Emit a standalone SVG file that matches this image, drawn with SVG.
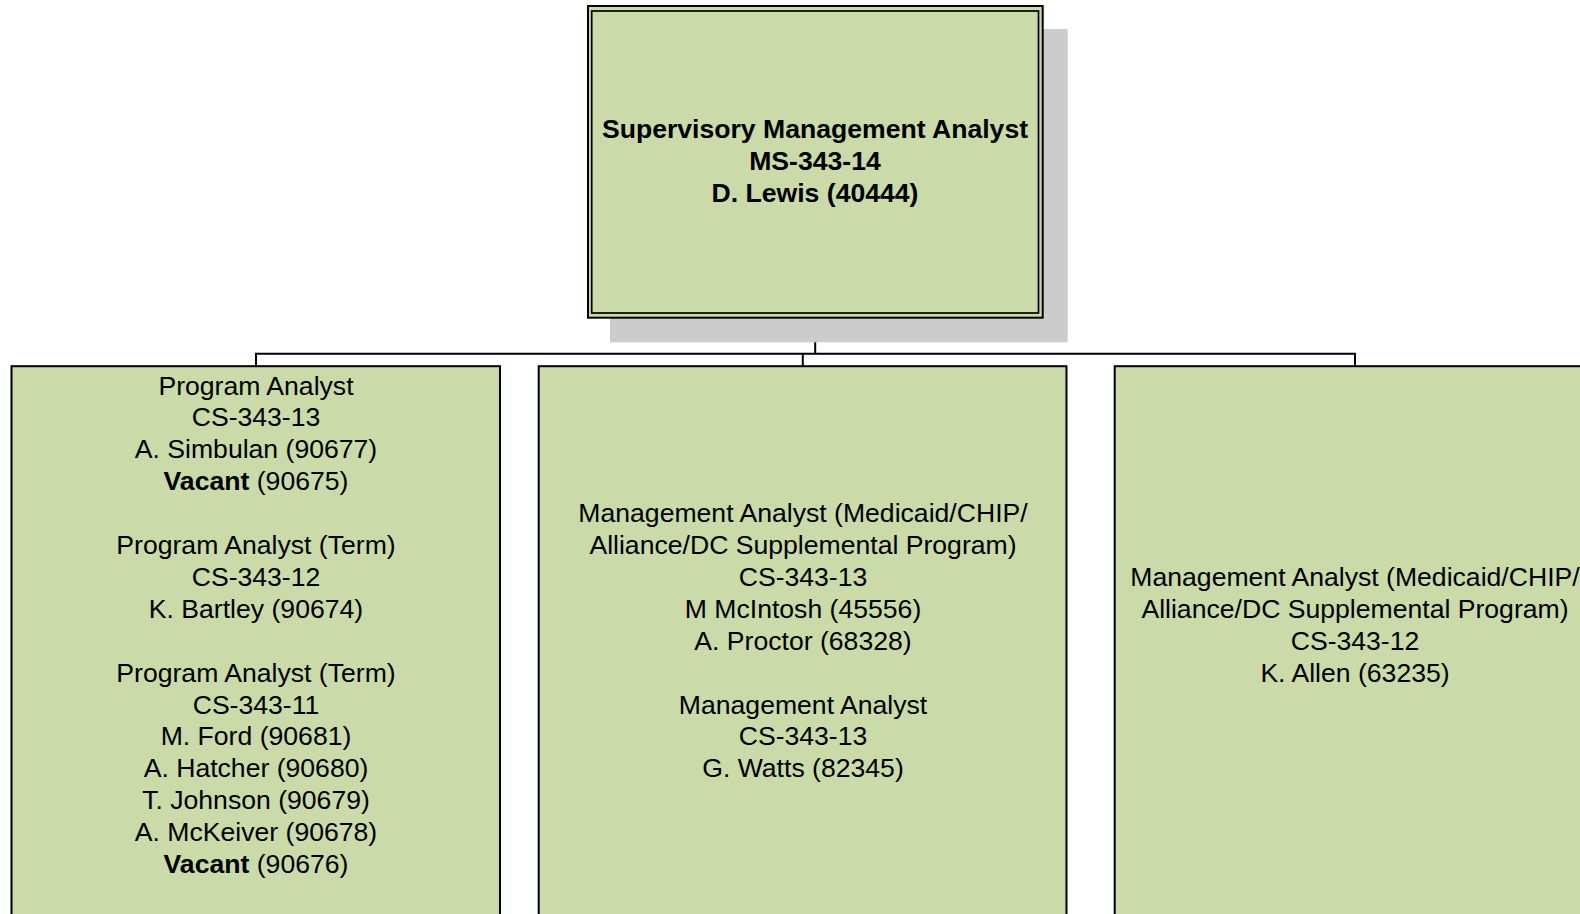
<svg xmlns="http://www.w3.org/2000/svg" width="1580" height="914" viewBox="0 0 1580 914">
<style>
.box{fill:#cbdaa9;stroke:#000;stroke-width:2}
.shadow{fill:#cccccc;stroke:none}
.conn{fill:none;stroke:#000;stroke-width:2}
text{font-family:"Liberation Sans",Arial,sans-serif;font-size:26.6px;fill:#000;text-anchor:middle}
.b{font-weight:bold}
</style>
<rect width="1580" height="914" fill="#fff"/>
<g id="connectors">
<path class="conn" d="M815.2 318 V353.8 M256 366 V353.8 H1355 V366 M802.8 353.8 V366"/>
</g>
<g id="node-supervisor">
<rect class="shadow" x="610" y="29" width="457.7" height="313.3"/>
<rect class="box" x="588" y="6" width="454.7" height="311.7"/>
<rect x="591.7" y="11" width="446.8" height="302" fill="none" stroke="#000" stroke-width="1.7"/>
<text class="b" x="815" y="137.5">Supervisory Management Analyst</text>
<text class="b" x="815" y="169.5">MS-343-14</text>
<text class="b" x="815" y="201.5">D. Lewis (40444)</text>
</g>
<g id="node-program-analysts">
<rect class="box" x="11.5" y="366.2" width="488.5" height="600"/>
<text x="256" y="394.5">Program Analyst</text>
<text x="256" y="426.4">CS-343-13</text>
<text x="256" y="458.3">A. Simbulan (90677)</text>
<text x="256" y="490.2"><tspan class="b">Vacant</tspan> (90675)</text>
<text x="256" y="554">Program Analyst (Term)</text>
<text x="256" y="585.9">CS-343-12</text>
<text x="256" y="617.8">K. Bartley (90674)</text>
<text x="256" y="681.6">Program Analyst (Term)</text>
<text x="256" y="713.5">CS-343-11</text>
<text x="256" y="745.4">M. Ford (90681)</text>
<text x="256" y="777.3">A. Hatcher (90680)</text>
<text x="256" y="809.2">T. Johnson (90679)</text>
<text x="256" y="841.1">A. McKeiver (90678)</text>
<text x="256" y="873"><tspan class="b">Vacant</tspan> (90676)</text>
</g>
<g id="node-management-analysts-13">
<rect class="box" x="538.7" y="366.2" width="527.8" height="600"/>
<text x="803" y="522.1">Management Analyst (Medicaid/CHIP/</text>
<text x="803" y="554">Alliance/DC Supplemental Program)</text>
<text x="803" y="585.9">CS-343-13</text>
<text x="803" y="617.8">M McIntosh (45556)</text>
<text x="803" y="649.7">A. Proctor (68328)</text>
<text x="803" y="713.5">Management Analyst</text>
<text x="803" y="745.4">CS-343-13</text>
<text x="803" y="777.3">G. Watts (82345)</text>
</g>
<g id="node-management-analyst-12">
<rect class="box" x="1114.7" y="366.2" width="480.6" height="600"/>
<text x="1355" y="585.9">Management Analyst (Medicaid/CHIP/</text>
<text x="1355" y="617.8">Alliance/DC Supplemental Program)</text>
<text x="1355" y="649.7">CS-343-12</text>
<text x="1355" y="681.6">K. Allen (63235)</text>
</g>
</svg>
